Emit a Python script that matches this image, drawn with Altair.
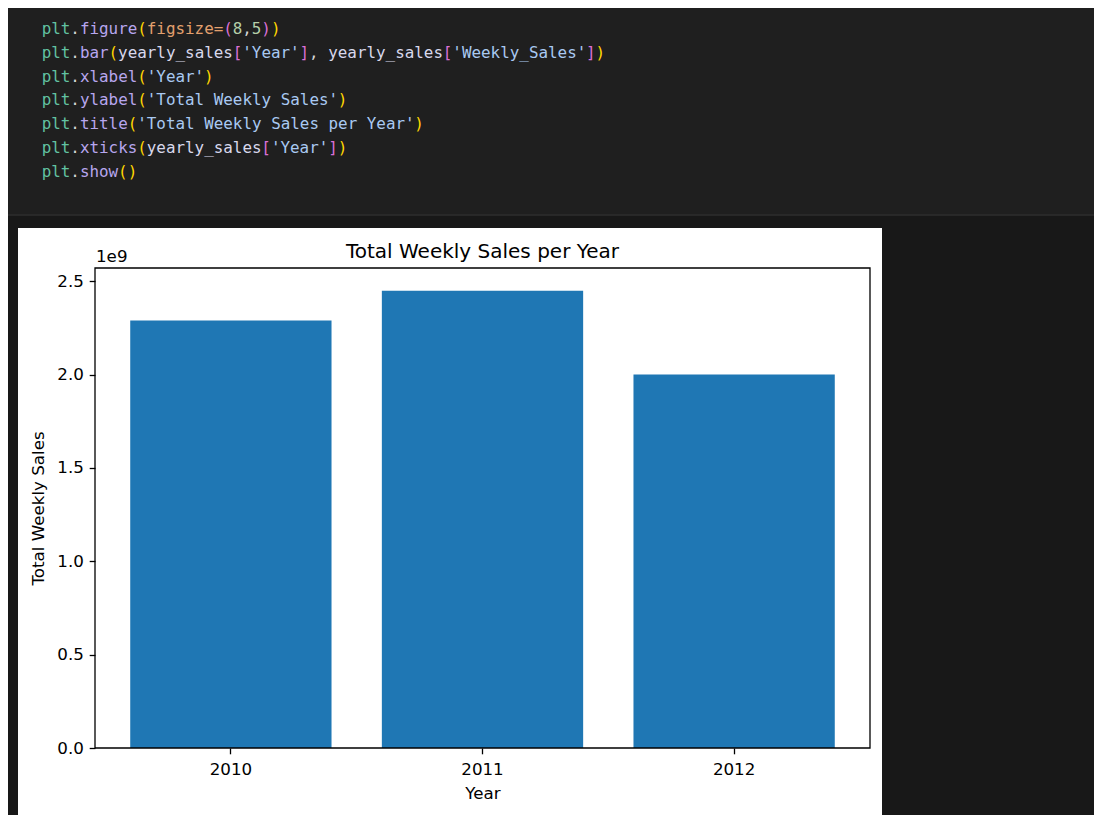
import altair as alt
import pandas as pd

# ---- chart values ----
years = ["2010", "2011", "2012"]
weekly_sales = [2.2889e9, 2.4482e9, 2.0001e9]
y_ticks = [0, 0.5e9, 1.0e9, 1.5e9, 2.0e9, 2.5e9]
y_max = 2.5706e9

chart_title = "Total Weekly Sales per Year"
x_title = "Year"
y_title = "Total Weekly Sales"
offset_text = "1e9"

# ---- code cell content (text tokens + syntax kind) ----
code_lines = [
    [("plt", "var"), (".", "punct"), ("figure", "func"), ("(", "p1"), ("figsize=", "param"),
     ("(", "p2"), ("8", "num"), (",", "punct"), ("5", "num"), (")", "p2"), (")", "p1")],
    [("plt", "var"), (".", "punct"), ("bar", "func"), ("(", "p1"), ("yearly_sales", "ident"),
     ("[", "p2"), ("'Year'", "str"), ("]", "p2"), (", ", "punct"), ("yearly_sales", "ident"),
     ("[", "p2"), ("'Weekly_Sales'", "str"), ("]", "p2"), (")", "p1")],
    [("plt", "var"), (".", "punct"), ("xlabel", "func"), ("(", "p1"), ("'Year'", "str"), (")", "p1")],
    [("plt", "var"), (".", "punct"), ("ylabel", "func"), ("(", "p1"), ("'Total Weekly Sales'", "str"), (")", "p1")],
    [("plt", "var"), (".", "punct"), ("title", "func"), ("(", "p1"), ("'Total Weekly Sales per Year'", "str"), (")", "p1")],
    [("plt", "var"), (".", "punct"), ("xticks", "func"), ("(", "p1"), ("yearly_sales", "ident"),
     ("[", "p2"), ("'Year'", "str"), ("]", "p2"), (")", "p1")],
    [("plt", "var"), (".", "punct"), ("show", "func"), ("(", "p1"), (")", "p1")],
]
token_kinds = ["var", "punct", "func", "param", "num", "p1", "p2", "str", "ident"]
token_colors = ["#62c2a2", "#d4d4d4", "#b7a6ee", "#e3a06e", "#b5cea8", "#ffd700", "#da70d6", "#a9c9f2", "#d8d8ec"]

# ---- layout (pixels) ----
W, H = 775, 480
BG = "#181818"
BAR = "#1f77b4"
FONT = "DejaVu Sans"

rows = []
for li, line in enumerate(code_lines):
    col = 0
    for text, kind in line:
        rows.append({"line": li, "col": col, "tok": text, "kind": kind})
        col += len(text)
code_df = pd.DataFrame(rows)

df = pd.DataFrame({"Year": years, "Weekly_Sales": weekly_sales})
one = pd.DataFrame({"k": [0]})

code_box = alt.Chart(one).mark_rect(fill="#1f1f1f", stroke="#2e2e2e", strokeWidth=1.5).encode(
    x=alt.value(-110), x2=alt.value(1030), y=alt.value(-265), y2=alt.value(-53))

panel = alt.Chart(one).mark_rect(fill="white").encode(
    x=alt.value(-77), x2=alt.value(787), y=alt.value(-40), y2=alt.value(547))

code_text = alt.Chart(code_df).mark_text(
    align="left", baseline="middle", font="DejaVu Sans Mono", fontSize=15.9).encode(
    x=alt.X("col:Q", axis=None, scale=alt.Scale(domain=[0, 100], range=[-53.3, -53.3 + 955], nice=False, zero=False)),
    y=alt.Y("line:Q", axis=None, scale=alt.Scale(domain=[0, 6], range=[-239, -239 + 6 * 23.8], nice=False, zero=False)),
    text="tok:N",
    color=alt.Color("kind:N", scale=alt.Scale(domain=token_kinds, range=token_colors), legend=None),
)

bars = alt.Chart(df).mark_bar(color=BAR).encode(
    x=alt.X("Year:O", title=x_title,
            scale=alt.Scale(paddingInner=0.2, paddingOuter=0.14),
            axis=alt.Axis(labelAngle=0, labelPadding=7.8, titlePadding=7, zindex=1, domain=False)),
    y=alt.Y("Weekly_Sales:Q", title=y_title,
            scale=alt.Scale(domain=[0, y_max], nice=False, zero=True),
            axis=alt.Axis(values=y_ticks, labelExpr="format(datum.value / 1e9, '.1f')",
                          grid=False, titlePadding=9, zindex=1, domain=False)),
)

frame = alt.Chart(one).mark_rect(fill="white", fillOpacity=0, stroke="black", strokeWidth=1.3).encode(
    x=alt.value(0), x2=alt.value(W), y=alt.value(0), y2=alt.value(H))

title_txt = alt.Chart(pd.DataFrame({"t": [chart_title]})).mark_text(
    align="center", baseline="alphabetic", font=FONT, fontSize=20, color="black").encode(
    x=alt.value(W / 2), y=alt.value(-10), text="t:N")

offset_txt = alt.Chart(pd.DataFrame({"t": [offset_text]})).mark_text(
    align="left", baseline="alphabetic", font=FONT, fontSize=16.7, color="black").encode(
    x=alt.value(1), y=alt.value(-6), text="t:N")

chart = alt.layer(code_box, panel, code_text, bars, frame, title_txt, offset_txt).resolve_scale(
    x="independent", y="independent", color="independent"
).properties(
    width=W, height=H, background=BG,
    padding={"left": 87, "top": 260, "right": 224, "bottom": 67},
    autosize=alt.AutoSizeParams(type="none"),
).configure_view(strokeWidth=0).configure_axis(
    labelFont=FONT, titleFont=FONT, labelFontSize=16.7, titleFontSize=16.7,
    labelColor="black", titleColor="black", titleFontWeight="normal",
    tickSize=5.8, tickWidth=1.3, tickColor="black", labelPadding=5.8,
)

chart.save("out.html", embed_options={"renderer": "svg", "actions": False})
